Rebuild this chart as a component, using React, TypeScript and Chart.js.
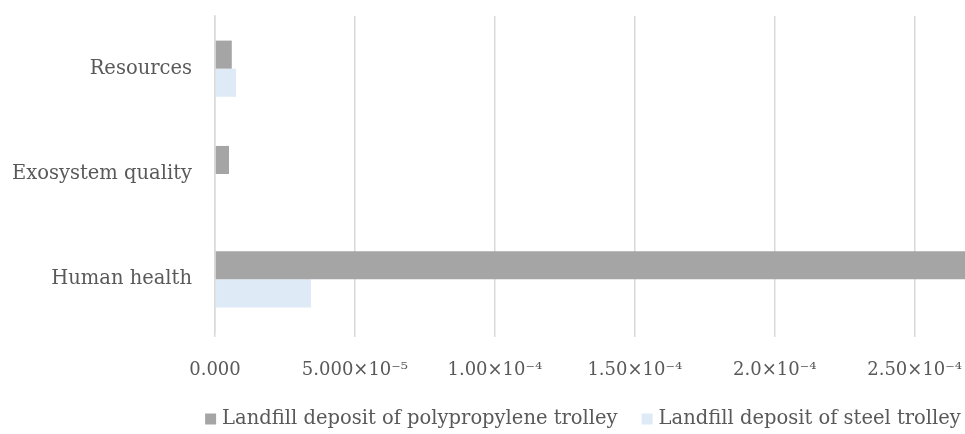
import { useEffect, useRef } from "react";
import { Chart, registerables } from "chart.js";

Chart.register(...registerables);

// Impact categories, top to bottom
const categories = ["Resources", "Exosystem quality", "Human health"];

// Series names and their values per category
const seriesNames = [
  "Landfill deposit of polypropylene trolley",
  "Landfill deposit of steel trolley",
];
const polypropyleneValues = [6.0e-6, 5.0e-6, 2.75e-4];
const steelValues = [7.5e-6, 3.0e-7, 3.43e-5];

// Value axis
const tickStep = 5e-5;
const axisMax = 2.68e-4;
const tickLabels = ["0.000", "5.000×10⁻⁵", "1.00×10⁻⁴", "1.50×10⁻⁴", "2.0×10⁻⁴", "2.50×10⁻⁴"];

const seriesColors = ["#a5a5a5", "#deebf7"];
const textColor = "#595959";
const gridColor = "#d9d9d9";
const fontFamily = "'DejaVu Serif', serif";

// Legend row drawn under the value axis, centred a little left of the plot centre
const legendPlugin = {
  id: "bottomLegend",
  afterDraw(chart: any) {
    const ctx: CanvasRenderingContext2D = chart.ctx;
    const items = chart.data.datasets.map((ds: any) => ({
      label: String(ds.label),
      color: String(ds.backgroundColor),
    }));
    const box = 11;
    const gap = 6;
    const itemGap = 24;
    ctx.save();
    ctx.font = `19.5px ${fontFamily}`;
    ctx.textBaseline = "middle";
    ctx.textAlign = "left";
    const widths = items.map((it: any) => box + gap + ctx.measureText(it.label).width);
    const total = widths.reduce((a: number, b: number) => a + b, 0) + itemGap * (items.length - 1);
    const area = chart.chartArea;
    const centerX = (area.left + area.right) / 2 - 7;
    const y = chart.height - 15;
    let x = centerX - total / 2;
    items.forEach((it: any, i: number) => {
      ctx.fillStyle = it.color;
      ctx.fillRect(x, y - box / 2, box, box);
      ctx.fillStyle = textColor;
      ctx.fillText(it.label, x + box + gap, y);
      x += widths[i] + itemGap;
    });
    ctx.restore();
  },
};

export default function App() {
  const canvasRef = useRef<HTMLCanvasElement | null>(null);

  useEffect(() => {
    document.body.style.margin = "0";
    const canvas = canvasRef.current;
    if (!canvas) return;

    const chart = new Chart(canvas, {
      type: "bar",
      data: {
        labels: categories,
        datasets: [
          {
            label: seriesNames[0],
            data: polypropyleneValues,
            backgroundColor: seriesColors[0],
            categoryPercentage: 0.533,
            barPercentage: 1,
          },
          {
            label: seriesNames[1],
            data: steelValues,
            backgroundColor: seriesColors[1],
            categoryPercentage: 0.533,
            barPercentage: 1,
          },
        ],
      },
      options: {
        indexAxis: "y",
        responsive: true,
        maintainAspectRatio: false,
        animation: false,
        layout: { padding: { top: 16, right: 0, bottom: 59, left: 0 } },
        scales: {
          x: {
            type: "linear",
            min: 0,
            max: axisMax,
            border: { display: false },
            grid: { color: gridColor, lineWidth: 1.5, tickLength: 5 },
            ticks: {
              stepSize: tickStep,
              includeBounds: false,
              autoSkip: false,
              maxRotation: 0,
              padding: 23,
              color: textColor,
              font: { family: fontFamily, size: 18 },
              callback: (v: any) => tickLabels[Math.round(Number(v) / tickStep)] ?? "",
            },
            afterFit: (scale: any) => {
              scale.height = 43;
              scale.paddingLeft = 0;
              scale.paddingRight = 0;
            },
          },
          y: {
            grid: { display: false, drawTicks: false },
            border: { display: true, color: gridColor, width: 1.5 },
            ticks: {
              padding: 23,
              color: textColor,
              font: { family: fontFamily, size: 19.5 },
            },
            afterFit: (scale: any) => {
              scale.width = 215;
              scale.paddingTop = 0;
              scale.paddingBottom = 0;
            },
          },
        },
        plugins: {
          legend: { display: false },
          tooltip: { enabled: false },
        },
      },
      plugins: [legendPlugin],
    });

    return () => chart.destroy();
  }, []);

  return (
    <div style={{ position: "relative", width: 965, height: 434 }}>
      <canvas ref={canvasRef} />
    </div>
  );
}
